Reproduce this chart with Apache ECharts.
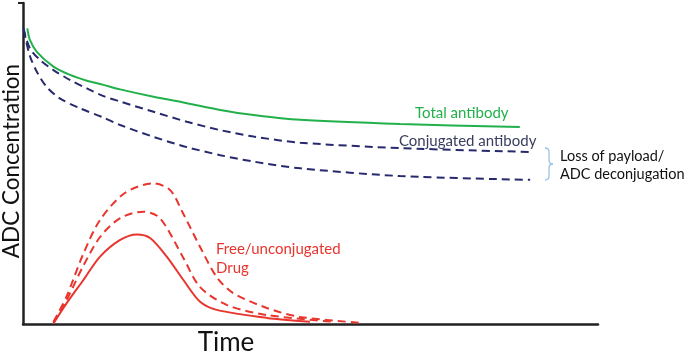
<!DOCTYPE html>
<html>
<head>
<meta charset="utf-8">
<script src="https://cdn.jsdelivr.net/npm/echarts@6/dist/echarts.min.js"></script>
<style>html,body{margin:0;padding:0;background:#fff}#c{width:685px;height:356px}</style>
</head>
<body>
<div id="c"></div>
<script>
// Time (x) and concentration (y) values, arbitrary units 0-100
var totalT   = [0.75, 1.2, 2.4, 5.3, 8.2, 11.1, 14.0, 16.9, 22.7, 28.5, 34.3, 40.1, 48.2, 65.6, 86.4];
var totalC   = [92.1, 88.5, 84.8, 80.2, 77.6, 75.8, 74.5, 73.1, 70.8, 68.8, 66.7, 65.1, 63.6, 62.3, 61.4];

var conjHiT  = [0.05, 1.2, 3.0, 5.3, 8.2, 11.1, 14.0, 16.9, 22.7, 28.5, 34.3, 40.1, 48.2, 65.6, 88.2];
var conjHiC  = [92.1, 85.9, 82.2, 79.1, 76.0, 73.4, 71.0, 69.3, 66.1, 63.0, 60.4, 58.4, 56.5, 54.8, 53.6];

var conjLoT  = [0.17, 0.43, 1.2, 2.4, 4.1, 6.4, 9.9, 14.0, 16.9, 22.7, 28.5, 34.3, 40.1, 48.2, 65.6, 88.2];
var conjLoC  = [91.6, 89.1, 83.5, 78.6, 73.9, 70.3, 67.2, 64.3, 62.0, 58.3, 55.1, 52.6, 50.6, 48.5, 46.1, 44.9];

var drugT    = [5.3, 7.6, 10.5, 13.4, 16.9, 19.8, 22.1, 25.0, 27.9, 30.8, 33.7, 42.4, 49.9];
var drugC    = [0.2, 6.5, 13.7, 21.0, 26.2, 27.9, 26.8, 21.0, 13.7, 6.9, 4.4, 1.9, 0.7];

var drugMidT = [5.3, 7.6, 10.4, 13.4, 16.9, 20.9, 23.8, 27.8, 30.8, 35.5, 42.4, 53.9];
var drugMidC = [0.6, 7.5, 17.8, 27.1, 33.0, 35.0, 33.0, 20.9, 11.5, 5.9, 2.8, 0.7];

var drugHiT  = [5.3, 7.6, 10.4, 13.4, 17.7, 22.7, 25.6, 27.8, 30.8, 33.7, 36.5, 42.4, 48.2, 58.6];
var drugHiC  = [0.6, 8.7, 21.5, 32.4, 40.8, 43.8, 41.7, 34.6, 24.0, 14.6, 9.7, 5.0, 2.2, 0.4];

function pairs(xs, ys) { return xs.map(function (x, i) { return [x, ys[i]]; }); }

var GREEN = '#22b04b', NAVY = '#27296d', RED = '#e8352e';
var FONT = 'Lato, "Open Sans", sans-serif';

function line(name, xs, ys, color, dashed) {
  return {
    name: name, type: 'line', data: pairs(xs, ys), showSymbol: false, symbol: 'none',
    smooth: 0.3, silent: true, animation: false,
    lineStyle: { color: color, width: 2, type: dashed ? [8, 5] : 'solid' }
  };
}

var BR = { stroke: '#9cc3e5', lineWidth: 1.3, fill: null };

var chart = echarts.init(document.getElementById('c'));
chart.setOption({
  animation: false,
  grid: { left: 23, right: 87, top: 3, bottom: 32 },
  xAxis: {
    type: 'value', min: 0, max: 100,
    axisLine: { show: true, lineStyle: { color: '#222', width: 2.5 } },
    axisTick: { show: false }, axisLabel: { show: false }, splitLine: { show: false }
  },
  yAxis: {
    type: 'value', min: 0, max: 100,
    axisLine: { show: true, lineStyle: { color: '#222', width: 2.5 } },
    axisTick: { show: false }, axisLabel: { show: false }, splitLine: { show: false }
  },
  series: [
    line('Total antibody', totalT, totalC, GREEN, false),
    line('Conjugated antibody A', conjHiT, conjHiC, NAVY, true),
    line('Conjugated antibody B', conjLoT, conjLoC, NAVY, true),
    line('Drug', drugT, drugC, RED, false),
    line('Drug mid', drugMidT, drugMidC, RED, true),
    line('Drug high', drugHiT, drugHiC, RED, true)
  ],
  graphic: [
    { type: 'line', shape: { x1: 18, y1: 3, x2: 23, y2: 3 }, style: { stroke: '#222', lineWidth: 2 } },
    { type: 'text', x: 12, y: 161, rotation: Math.PI / 2,
      style: { text: 'ADC Concentration', font: '22.5px ' + FONT, fill: '#111', textAlign: 'center', textVerticalAlign: 'middle' } },
    { type: 'text', x: 226, y: 343,
      style: { text: 'Time', font: '26px ' + FONT, fill: '#111', textAlign: 'center', textVerticalAlign: 'middle' } },
    { type: 'text', x: 415, y: 113,
      style: { text: 'Total antibody', font: '15px ' + FONT, fill: GREEN, textAlign: 'left', textVerticalAlign: 'middle' } },
    { type: 'text', x: 399, y: 141,
      style: { text: 'Conjugated antibody', font: '15px ' + FONT, fill: '#3a3d5e', textAlign: 'left', textVerticalAlign: 'middle' } },
    { type: 'text', x: 560, y: 156,
      style: { text: 'Loss of payload/', font: '14.5px ' + FONT, fill: '#111', textAlign: 'left', textVerticalAlign: 'middle' } },
    { type: 'text', x: 560, y: 174,
      style: { text: 'ADC deconjugation', font: '14.5px ' + FONT, fill: '#111', textAlign: 'left', textVerticalAlign: 'middle' } },
    { type: 'text', x: 216, y: 249,
      style: { text: 'Free/unconjugated', font: '15px ' + FONT, fill: RED, textAlign: 'left', textVerticalAlign: 'middle' } },
    { type: 'text', x: 216, y: 268,
      style: { text: 'Drug', font: '15px ' + FONT, fill: RED, textAlign: 'left', textVerticalAlign: 'middle' } },
    { type: 'bezierCurve', shape: { x1: 545, y1: 148, cpx1: 549, cpy1: 148, x2: 549, y2: 152 }, style: BR },
    { type: 'line', shape: { x1: 549, y1: 152, x2: 549, y2: 160 }, style: BR },
    { type: 'bezierCurve', shape: { x1: 549, y1: 160, cpx1: 549, cpy1: 164, x2: 553, y2: 164 }, style: BR },
    { type: 'bezierCurve', shape: { x1: 553, y1: 164, cpx1: 549, cpy1: 164, x2: 549, y2: 168 }, style: BR },
    { type: 'line', shape: { x1: 549, y1: 168, x2: 549, y2: 176 }, style: BR },
    { type: 'bezierCurve', shape: { x1: 549, y1: 176, cpx1: 549, cpy1: 180, x2: 545, y2: 180 }, style: BR }
  ]
});
</script>
</body>
</html>
